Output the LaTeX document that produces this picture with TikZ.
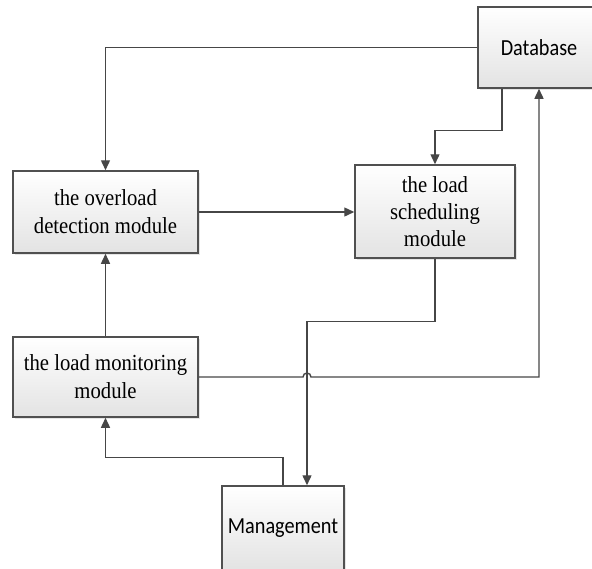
\documentclass[tikz,border=0pt]{standalone}
\usepackage{fontspec}
\setmainfont{Liberation Serif}[FakeStretch=0.9]
\newfontfamily\calfont{Carlito}[FakeStretch=0.88]
\usepackage{tikz}
\usetikzlibrary{calc}
\usetikzlibrary{arrows.meta}
\usetikzlibrary{shadows}
\definecolor{boxline}{HTML}{505050}
\definecolor{wireline}{HTML}{464646}
\tikzset{modbox/.style={rectangle, draw=boxline, line width=1.5pt, align=center,
    top color=white, bottom color=black!11, inner sep=2pt,
    drop shadow={shadow xshift=2pt, shadow yshift=-2pt, fill=black!10, opacity=1},
    font=\fontsize{23}{28}\selectfont}}
\tikzset{wire/.style={draw=wireline, line width=1.4pt, -{Triangle[length=10pt,width=9pt]}}}

\begin{document}
\begin{tikzpicture}[x=1pt,y=-1pt]
  \useasboundingbox (0,0) rectangle (592,568);
  \node[modbox, minimum width=122pt, minimum height=81pt, font=\calfont\fontsize{23}{28}\selectfont] (db) at (539,47.5) {Database};
  \node[modbox, minimum width=185pt, minimum height=82pt] (ov) at (105.5,212) {the overload\\detection module};
  \node[modbox, minimum width=160pt, minimum height=93pt, font=\fontsize{23}{27}\selectfont] (sc) at (435,211.5) {the load\\scheduling\\module};
  \node[modbox, minimum width=185pt, minimum height=80pt] (mo) at (105.5,377) {the load monitoring\\module};
  \node[modbox, minimum width=122pt, minimum height=84pt, font=\calfont\fontsize{23}{28}\selectfont] (mg) at (283,528) {Management};
  \coordinate (hop) at ([xshift=24pt]mg.north |- mo.east);

  \draw[wire] (db.west) -| (ov.north);
  \draw[wire] ([xshift=-37pt]db.south) -- ++(0,42) -| (sc.north);
  \draw[wire] (ov.east) -- (ov.east -| sc.west);
  \draw[wire] (mo.north) -- (ov.south);
  \draw[wire] (sc.south) -- ++(0,63) -| ([xshift=24pt]mg.north);
  \draw[wire] (mg.north) -- ++(0,-28) -| (mo.south);
  \draw[wire] (mo.east) -- ([xshift=-4pt]hop) arc[start angle=180, end angle=0, radius=4pt]
    -- (db.south |- mo.east) -- (db.south);
\end{tikzpicture}
\end{document}
